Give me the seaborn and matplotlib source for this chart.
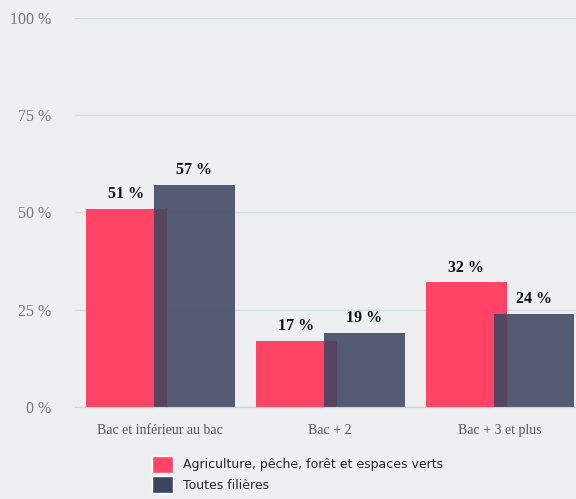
import matplotlib
matplotlib.use('Agg')
import matplotlib.pyplot as plt
import seaborn as sns
import pandas as pd
from matplotlib.patches import Patch

categories = ['Bac et inférieur au bac', 'Bac + 2', 'Bac + 3 et plus']
series = ['Agriculture, pêche, forêt et espaces verts', 'Toutes filières']
agri = [51, 17, 32]
toutes = [57, 19, 24]
yticks = [0, 25, 50, 75, 100]

df = pd.DataFrame({
    'cat': categories * 2,
    'serie': [series[0]] * 3 + [series[1]] * 3,
    'val': agri + toutes,
})

bg = '#eeeff1'
colors = ['#ff4466', '#3e4460']

sns.set_style('white')
plt.rcParams['font.family'] = ['Liberation Serif', 'DejaVu Serif']

fig = plt.figure(figsize=(5.76, 4.99), dpi=100, facecolor=bg)
ax = fig.add_axes([0.130, 0.1844, 0.87, 0.7796])
ax.set_facecolor(bg)

sns.barplot(data=df, x='cat', y='val', hue='serie', palette=colors,
            saturation=1, width=0.8, ax=ax, legend=False)

# widen bars so the two series overlap a bit, like the original
for i, p in enumerate(ax.patches):
    c = p.get_x() + p.get_width() / 2
    w = 0.476
    p.set_x(c - w / 2)
    p.set_width(w)
    p.set_edgecolor('none')
    if i >= 3:
        p.set_alpha(0.87)

for p in ax.patches:
    ax.annotate(f'{int(round(p.get_height()))} %',
                (p.get_x() + p.get_width() / 2, p.get_height()),
                xytext=(0, 5), textcoords='offset points',
                ha='center', va='bottom', fontsize=11.5, fontweight='bold',
                color='#111111')

ax.set_ylim(0, 100)
ax.set_xlim(-0.503, 2.447)
ax.set_yticks(yticks)
ax.set_yticklabels([f'{t} %' for t in yticks], fontsize=11.5, color='#777777')
ax.tick_params(axis='x', labelsize=10, colors='#555555', length=0, pad=12)
ax.tick_params(axis='y', length=0, pad=17)
ax.set_xlabel('')
ax.set_ylabel('')
ax.grid(axis='y', color='#d3dde0', linewidth=1)
ax.set_axisbelow(True)
for s in ['top', 'right', 'left']:
    ax.spines[s].set_visible(False)
ax.spines['bottom'].set_color('#c8d3ea')

handles = [Patch(facecolor=colors[0]), Patch(facecolor=colors[1])]
fig.legend(handles, series, loc='lower left', bbox_to_anchor=(0.248, -0.006),
           frameon=False, prop={'family': 'DejaVu Sans', 'size': 9},
           handlelength=1.7, handleheight=1.7, handletextpad=0.85,
           labelspacing=0.3, borderpad=0.2)

fig.savefig('out.png', dpi=100, facecolor=bg)
